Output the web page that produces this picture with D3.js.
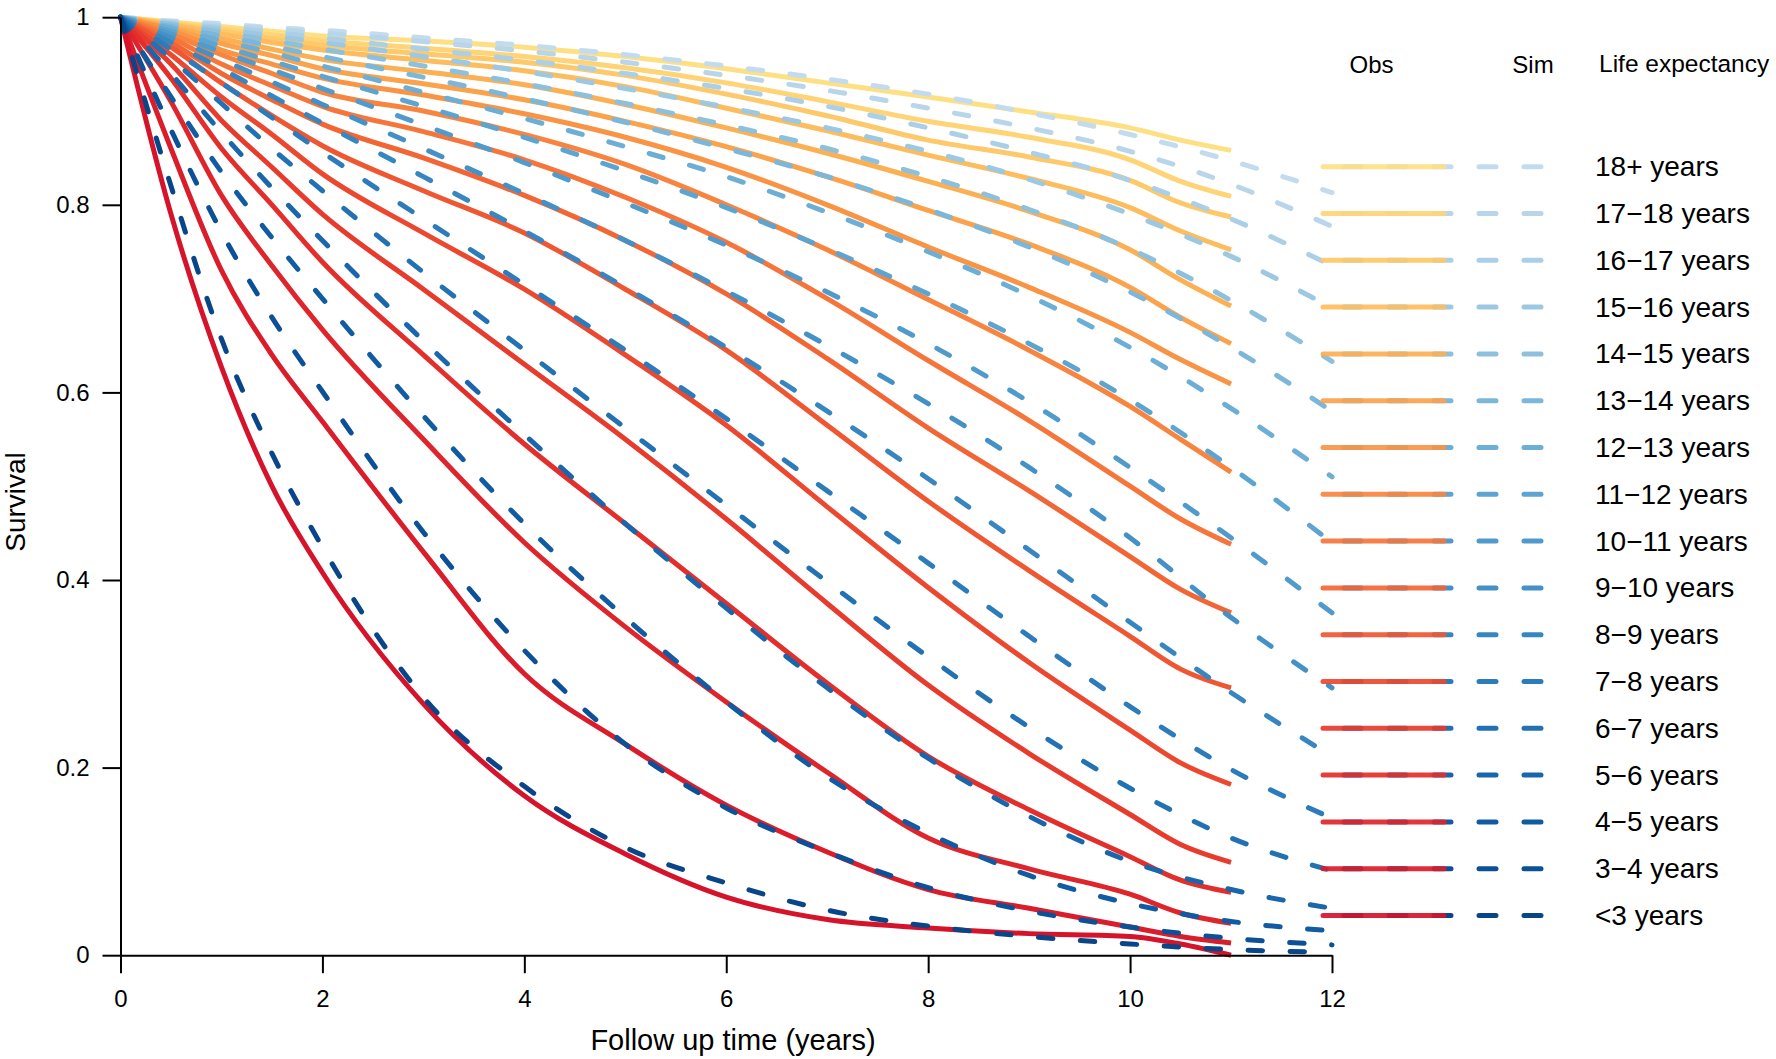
<!DOCTYPE html>
<html><head><meta charset="utf-8">
<script src="https://cdn.jsdelivr.net/npm/d3@7"></script>
<style>
body{margin:0;background:#fff;}
svg{display:block;font-family:"Liberation Sans",Arial,Helvetica,sans-serif;}
</style>
</head><body>
<svg id="chart" width="1776" height="1059"></svg>
<script>
// ---------------- DATA ----------------
const groupLabels = ["18+ years","17\u221218 years","16\u221217 years","15\u221216 years","14\u221215 years",
  "13\u221214 years","12\u221213 years","11\u221212 years","10\u221211 years","9\u221210 years","8\u22129 years",
  "7\u22128 years","6\u22127 years","5\u22126 years","4\u22125 years","3\u22124 years","<3 years"];

const obsTimes = [0, 0.5, 1, 1.5, 2, 3, 4, 5, 6, 7, 8, 9, 10, 10.5, 11];
const simTimes = [0, 0.5, 1, 1.5, 2, 3, 4, 5, 6, 7, 8, 9, 10, 11, 12];

// Observed survival (Kaplan-Meier), per life-expectancy group
const obs_18p   = [1, .995, .990, .985, .980, .975, .968, .958, .945, .930, .915, .899, .882, .869, .858];
const obs_17_18 = [1, .994, .988, .981, .975, .967, .958, .946, .930, .910, .889, .872, .848, .825, .809];
const obs_16_17 = [1, .993, .985, .977, .970, .961, .952, .938, .918, .895, .869, .851, .826, .802, .787];
const obs_15_16 = [1, .992, .982, .973, .965, .954, .943, .926, .903, .879, .853, .828, .797, .772, .752];
const obs_14_15 = [1, .990, .977, .966, .955, .942, .928, .907, .882, .855, .825, .793, .752, .720, .692];
const obs_13_14 = [1, .988, .972, .959, .945, .929, .912, .889, .862, .830, .794, .758, .712, .680, .652];
const obs_12_13 = [1, .986, .965, .950, .935, .917, .897, .872, .840, .800, .755, .712, .664, .635, .609];
const obs_11_12 = [1, .982, .960, .940, .920, .900, .875, .843, .800, .752, .699, .645, .585, .550, .515];
const obs_10_11 = [1, .978, .950, .927, .905, .878, .848, .808, .760, .700, .634, .570, .500, .465, .438];
const obs_9_10  = [1, .973, .940, .912, .886, .850, .810, .762, .705, .636, .562, .495, .425, .390, .365];
const obs_8_9   = [1, .968, .930, .895, .863, .815, .770, .710, .645, .565, .484, .410, .340, .305, .285];
const obs_7_8   = [1, .960, .915, .875, .833, .770, .710, .640, .565, .478, .392, .312, .240, .205, .182];
const obs_6_7   = [1, .950, .890, .840, .790, .710, .630, .550, .465, .375, .288, .215, .150, .118, .099];
const obs_5_6   = [1, .935, .860, .800, .739, .640, .545, .460, .375, .290, .212, .155, .105, .080, .067];
const obs_4_5   = [1, .910, .810, .735, .667, .550, .440, .350, .270, .195, .125, .092, .065, .045, .034];
const obs_3_4   = [1, .860, .730, .640, .569, .430, .300, .225, .160, .110, .070, .050, .030, .020, .013];
const obs_lt3   = [1, .790, .627, .500, .408, .268, .170, .108, .062, .038, .029, .023, .020, .012, 0];

// Simulated survival, per life-expectancy group
const sim_18p   = [1, .996, .993, .989, .986, .978, .970, .960, .948, .934, .918, .898, .875, .847, .813];
const sim_17_18 = [1, .995, .991, .987, .983, .974, .964, .952, .938, .922, .903, .882, .857, .822, .777];
const sim_16_17 = [1, .994, .989, .984, .978, .966, .954, .940, .924, .905, .882, .856, .826, .785, .735];
const sim_15_16 = [1, .993, .987, .980, .973, .958, .942, .924, .904, .882, .857, .827, .790, .745, .690];
const sim_14_15 = [1, .992, .984, .975, .966, .948, .929, .908, .885, .860, .830, .795, .753, .698, .633];
const sim_13_14 = [1, .990, .980, .969, .958, .936, .913, .888, .860, .830, .795, .755, .707, .648, .580];
const sim_12_13 = [1, .988, .975, .962, .948, .920, .892, .862, .830, .792, .750, .703, .648, .583, .510];
const sim_11_12 = [1, .985, .969, .953, .937, .905, .872, .836, .797, .753, .705, .652, .592, .520, .440];
const sim_10_11 = [1, .982, .963, .944, .924, .885, .845, .802, .757, .707, .652, .590, .520, .445, .365];
const sim_9_10  = [1, .978, .955, .931, .907, .860, .812, .762, .708, .650, .588, .520, .445, .360, .285];
const sim_8_9   = [1, .973, .945, .916, .887, .830, .772, .712, .648, .580, .508, .432, .355, .280, .212];
const sim_7_8   = [1, .966, .930, .893, .856, .785, .715, .645, .572, .495, .418, .340, .265, .198, .146];
const sim_6_7   = [1, .956, .908, .860, .815, .728, .645, .562, .480, .398, .318, .243, .178, .125, .090];
const sim_5_6   = [1, .940, .877, .818, .762, .655, .555, .460, .370, .285, .210, .148, .100, .070, .050];
const sim_4_5   = [1, .915, .835, .765, .700, .575, .460, .360, .270, .190, .130, .085, .055, .036, .026];
const sim_3_4   = [1, .880, .771, .680, .601, .451, .325, .225, .157, .110, .072, .047, .030, .018, .011];
const sim_lt3   = [1, .820, .657, .535, .435, .275, .180, .115, .077, .048, .031, .020, .012, .006, .003];

const obsSeries = [obs_18p, obs_17_18, obs_16_17, obs_15_16, obs_14_15, obs_13_14, obs_12_13, obs_11_12,
  obs_10_11, obs_9_10, obs_8_9, obs_7_8, obs_6_7, obs_5_6, obs_4_5, obs_3_4, obs_lt3];
const simSeries = [sim_18p, sim_17_18, sim_16_17, sim_15_16, sim_14_15, sim_13_14, sim_12_13, sim_11_12,
  sim_10_11, sim_9_10, sim_8_9, sim_7_8, sim_6_7, sim_5_6, sim_4_5, sim_3_4, sim_lt3];

const xTicks = [0, 2, 4, 6, 8, 10, 12];
const yTicks = [0, 0.2, 0.4, 0.6, 0.8, 1];
const yTickLabels = ["0", "0.2", "0.4", "0.6", "0.8", "1"];

// ---------------- DRAWING ----------------
const svg = d3.select("#chart");
svg.append("rect").attr("width", 1776).attr("height", 1059).attr("fill", "#fff");

const x = d3.scaleLinear().domain([0, 12]).range([120.5, 1332]);
const y = d3.scaleLinear().domain([0, 1]).range([955.2, 17.2]);

const n = groupLabels.length;
const obsColor = i => d3.interpolateRgbBasis(["#fee084", "#fdb24f", "#f6763a", "#e8362a", "#d5132b"])(i / (n - 1));
const simColor = i => d3.interpolateBlues(0.25 + 0.67 * i / (n - 1));

const line = d3.line().x(d => x(d[0])).y(d => y(d[1])).curve(d3.curveMonotoneX);

const gObs = svg.append("g");
obsSeries.forEach((vals, i) => {
  gObs.append("path")
    .attr("d", line(obsTimes.map((t, k) => [t, vals[k]])))
    .attr("fill", "none").attr("stroke", obsColor(i))
    .attr("stroke-width", 5).attr("stroke-linejoin", "round").attr("stroke-linecap", "butt");
});
const gSim = svg.append("g");
simSeries.forEach((vals, i) => {
  gSim.append("path")
    .attr("d", line(simTimes.map((t, k) => [t, vals[k]])))
    .attr("fill", "none").attr("stroke", simColor(i))
    .attr("stroke-width", 5).attr("stroke-linecap", "round")
    .attr("stroke-dasharray", "14.5,27.5");
});

// Axes
const xAxis = d3.axisBottom(x).tickValues(xTicks).tickFormat(d3.format("d"))
  .tickSize(18).tickSizeOuter(0).tickPadding(17);
const gx = svg.append("g").attr("transform", "translate(0,955.2)").call(xAxis);
const yAxis = d3.axisLeft(y).tickValues(yTicks).tickFormat((d, i) => yTickLabels[i])
  .tickSize(18).tickSizeOuter(0).tickPadding(13);
const gy = svg.append("g").attr("transform", "translate(120.5,0)").call(yAxis);
[gx, gy].forEach(g => {
  g.select(".domain").attr("stroke", "#000").attr("stroke-width", 2);
  g.selectAll(".tick line").attr("stroke", "#000").attr("stroke-width", 2);
  g.selectAll(".tick text").attr("fill", "#000").style("font-size", "24px")
    .style("font-family", '"Liberation Sans",Arial,sans-serif');
});

// Axis titles
svg.append("text").attr("x", 733).attr("y", 1050).attr("text-anchor", "middle")
  .style("font-size", "29px").text("Follow up time (years)");
svg.append("text").attr("transform", "translate(25,502) rotate(-90)").attr("text-anchor", "middle")
  .style("font-size", "28px").text("Survival");

// Legend
const legY0 = 166.7, legDY = 46.8;
svg.append("text").attr("x", 1371.5).attr("y", 73).attr("text-anchor", "middle")
  .style("font-size", "24px").text("Obs");
svg.append("text").attr("x", 1533).attr("y", 73).attr("text-anchor", "middle")
  .style("font-size", "24px").text("Sim");
svg.append("text").attr("x", 1599).attr("y", 72).style("font-size", "24.5px").text("Life expectancy");

groupLabels.forEach((lab, i) => {
  const yy = legY0 + i * legDY;
  svg.append("line").attr("x1", 1344).attr("x2", 1541).attr("y1", yy).attr("y2", yy)
    .attr("stroke", simColor(i)).attr("stroke-width", 5).attr("stroke-linecap", "round")
    .attr("stroke-dasharray", "17,28");
  svg.append("line").attr("x1", 1323).attr("x2", 1444).attr("y1", yy).attr("y2", yy)
    .attr("stroke", obsColor(i)).attr("stroke-width", 5).attr("stroke-linecap", "round")
    .attr("stroke-opacity", 0.92);
  svg.append("text").attr("x", 1595).attr("y", yy + 9.5).style("font-size", "28px").text(lab);
});
</script>
</body></html>
